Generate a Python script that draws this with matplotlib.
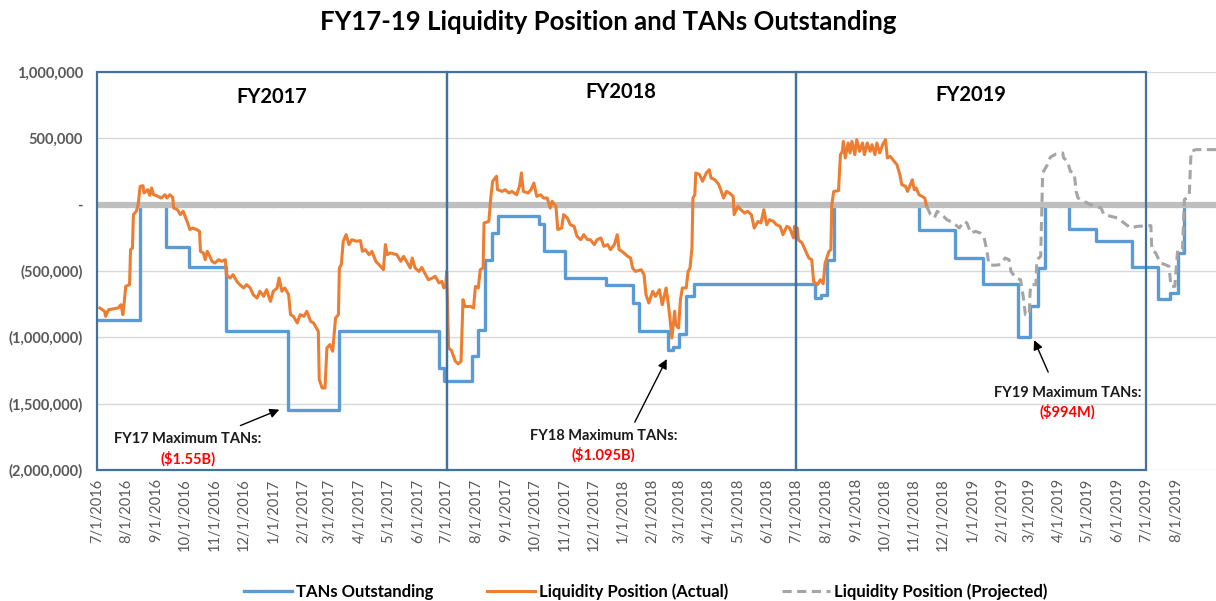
import matplotlib
matplotlib.use('Agg')
import matplotlib.pyplot as plt
import matplotlib.dates as mdates
from matplotlib.ticker import FuncFormatter, FixedLocator
import numpy as np

plt.rcParams['font.family'] = ['Lato', 'DejaVu Sans']

# all dates are kept as days after 7/1/2016, values in thousands of dollars
START = np.datetime64('2016-07-01')
END_DAY = 1168

# TANs outstanding (step changes)
tan_day = [0, 45, 72, 96, 135, 199, 253, 357, 362, 391, 398, 405, 412, 419, 461, 467,
           489, 531, 559, 566, 596, 601, 608, 615, 623, 749, 756, 762, 769, 858, 896,
           925, 961, 974, 982, 989, 1015, 1043, 1080, 1107, 1120, 1128, 1135, 1168]
tan_val = [-870, 0, -322, -472, -955, -1550, -955, -1230, -1332, -1138, -947, -414, -214, -83,
           -143, -347, -553, -603, -741, -955, -1095, -1073, -972, -686, -600, -703, -678,
           -414, 0, -193, -402, -595, -994, -766, -477, 0, -181, -276, -472, -708, -666,
           -364, 0, 0]

# Liquidity position (actual)
liq_day = [3, 8, 9, 12, 22, 25, 27, 28, 30, 34, 35, 37, 38, 41, 43, 45, 48, 49, 53, 55,
           57, 59, 62, 67, 71, 73, 76, 79, 80, 84, 87, 90, 94, 97, 100, 104, 107, 108, 111,
           113, 115, 117, 120, 123, 127, 130, 134, 135, 139, 142, 146, 149, 153, 156, 160,
           163, 167, 170, 174, 177, 181, 184, 188, 190, 193, 196, 200, 202, 205, 209, 212,
           216, 219, 223, 226, 229, 231, 232, 235, 238, 240, 243, 246, 249, 252, 253, 255,
           257, 260, 263, 266, 271, 275, 277, 280, 284, 287, 291, 296, 299, 301, 303, 306,
           313, 317, 320, 324, 327, 329, 332, 336, 339, 343, 346, 350, 353, 357, 360, 362,
           364, 365, 367, 370, 374, 377, 380, 382, 384, 390, 393, 395, 398, 400, 403, 404,
           409, 411, 413, 417, 418, 423, 426, 430, 433, 438, 441, 443, 445, 450, 453, 456,
           459, 463, 466, 470, 473, 475, 479, 481, 485, 487, 491, 494, 498, 501, 505, 508,
           512, 515, 519, 522, 526, 529, 533, 536, 540, 543, 545, 548, 554, 557, 559, 562,
           568, 571, 573, 576, 580, 583, 587, 590, 594, 596, 598, 600, 603, 604, 607, 609,
           611, 615, 617, 619, 621, 622, 624, 625, 629, 632, 636, 639, 641, 645, 649, 651,
           654, 657, 660, 664, 665, 669, 672, 676, 679, 683, 686, 690, 693, 696, 699, 702,
           706, 709, 713, 716, 720, 723, 727, 728, 731, 732, 736, 739, 743, 746, 748, 752,
           755, 758, 760, 764, 766, 767, 769, 774, 776, 778, 779, 781, 784, 786, 788, 791,
           793, 796, 799, 801, 804, 807, 809, 812, 814, 817, 820, 823, 825, 828, 832, 835,
           838, 840, 844, 846, 849, 851, 853, 855, 858, 861, 864, 866]
liq_val = [-779, -804, -842, -792, -779, -754, -829, -767, -616, -603, -339, -327, -75, -50,
           0, 138, 143, 88, 113, 70, 126, 75, 68, 50, 75, 50, 75, 55, -25, -38, -75, -50,
           -126, -188, -176, -188, -201, -352, -364, -415, -352, -377, -427, -440, -415,
           -427, -415, -528, -553, -528, -578, -603, -628, -603, -628, -678, -704, -653,
           -691, -641, -729, -653, -628, -553, -653, -628, -678, -829, -842, -892, -829,
           -842, -804, -880, -892, -930, -955, -1319, -1382, -1382, -1080, -1055, -1105,
           -854, -829, -477, -452, -276, -226, -301, -264, -276, -271, -352, -339, -377,
           -352, -427, -465, -490, -301, -377, -364, -377, -427, -390, -440, -477, -402,
           -477, -503, -473, -528, -566, -553, -540, -590, -578, -628, -603, -503, -1080,
           -1100, -1180, -1200, -1180, -716, -767, -767, -779, -616, -628, -490, -477,
           -138, -126, 50, 176, 214, 113, 100, 113, 88, 100, 75, 138, 239, 100, 88, 113,
           163, 63, 75, 50, 50, -25, 25, -13, -188, -176, -75, -100, -151, -163, -239,
           -264, -226, -264, -264, -301, -264, -251, -314, -301, -339, -301, -226, -339,
           -352, -390, -402, -477, -503, -490, -528, -678, -741, -653, -691, -641, -754,
           -628, -729, -854, -1005, -804, -905, -930, -716, -628, -628, -503, -477, -327,
           50, 75, 239, 226, 176, 239, 264, 201, 188, 151, 113, 50, 100, 88, 63, -75, -13,
           -38, -63, -50, -75, -176, -126, -138, -38, -151, -113, -126, -151, -163, -226,
           -163, -176, -251, -163, -176, -264, -289, -339, -402, -415, -578, -603, -566,
           -596, -440, -352, -339, 0, 100, 105, 377, 402, 477, 352, 465, 390, 477, 377,
           490, 402, 465, 377, 465, 402, 452, 377, 465, 390, 452, 490, 352, 364, 327, 301,
           226, 151, 138, 100, 151, 188, 113, 126, 75, 63, 50, -13]

# Liquidity position (projected)
proj_day = [866, 870, 874, 877, 882, 887, 894, 900, 905, 908, 912, 917, 922, 926, 929,
            931, 936, 943, 948, 952, 954, 959, 964, 967, 969, 973, 974, 975, 980, 981, 985,
            987, 988, 992, 995, 1001, 1008, 1009, 1013, 1016, 1020, 1022, 1024, 1030, 1037,
            1048, 1051, 1065, 1079, 1086, 1100, 1101, 1105, 1110, 1115, 1119, 1121, 1125,
            1128, 1133, 1135, 1140, 1142, 1147, 1168]
proj_val = [-13, -75, -100, -50, -75, -113, -138, -176, -126, -138, -214, -201, -214, -251,
            -352, -452, -457, -452, -402, -415, -503, -553, -566, -704, -829, -829, -653,
            -603, -603, -415, -390, 214, 251, 301, 357, 382, 390, 352, 327, 251, 239, 100,
            50, 25, 0, -25, -75, -100, -176, -163, -158, -339, -364, -440, -452, -465, -616,
            -616, -339, -339, 38, 63, 402, 415, 415]

fy_labels = ['FY2017', 'FY2018', 'FY2019']
fy_bounds = ['2016-07-01', '2017-07-01', '2018-07-01', '2019-07-01']


def days(d):
    return START + np.array(d, dtype='timedelta64[D]')


def acct(v, pos):
    if abs(v) < 1:
        return '-'
    s = f'{abs(v):,.0f}'
    return f'({s})' if v < 0 else s


def mdy(v, pos):
    d = mdates.num2date(v)
    return f'{d.month}/{d.day}/{d.year}'


fig = plt.figure(figsize=(12.16, 6.01), dpi=100)
ax = fig.add_axes([97 / 1216, 1 - 470 / 601, 1 - 97 / 1216, 398 / 601])

ax.step(days(tan_day), np.array(tan_val) * 1000, where='post', color='#5B9BD5', lw=2.4,
        label='TANs Outstanding', zorder=3)
ax.axhline(0, color='#BFBFBF', lw=4.5, zorder=4)
ax.plot(days(liq_day), np.array(liq_val) * 1000, color='#ED7D31', lw=2.2,
        label='Liquidity Position (Actual)', zorder=5)
ax.plot(days(proj_day), np.array(proj_val) * 1000, color='#A5A5A5', lw=2.2,
        dashes=(3, 1.8), label='Liquidity Position (Projected)', zorder=5)

# month ticks: labels run 7/1/2016 .. 8/1/2019
months = np.arange(np.datetime64('2016-07'), np.datetime64('2019-09'),
                   dtype='datetime64[M]').astype('datetime64[D]')
ax.vlines(months, -25000, 0, color='#D9D9D9', lw=0.8, zorder=2)

# fiscal year boxes
for i, lab in enumerate(fy_labels):
    s = np.datetime64(fy_bounds[i])
    e = np.datetime64(fy_bounds[i + 1])
    ax.axvspan(s, e, ymin=0, ymax=1, fill=False, ec='#41719C', lw=1.6, zorder=6, clip_on=False)
    ax.text(s + (e - s) / 2, [0.937, 0.95, 0.942][i], lab, transform=ax.get_xaxis_transform(),
            ha='center', va='center', fontsize=14.5, fontweight='bold', color='black')

ax.set_ylim(-2000000, 1000000)
ax.set_yticks(np.arange(-2000000, 1000001, 500000))
ax.yaxis.set_major_formatter(FuncFormatter(acct))
ax.set_xlim(START, START + np.timedelta64(END_DAY, 'D'))
ax.xaxis.set_major_locator(FixedLocator(mdates.date2num(months)))
ax.xaxis.set_major_formatter(FuncFormatter(mdy))
ax.tick_params(axis='x', length=0, pad=6, labelsize=10.5, labelcolor='#595959', rotation=90)
ax.tick_params(axis='y', length=0, pad=10, labelsize=10.5, labelcolor='#595959')
for t in ax.get_yticklabels():
    t.set_fontweight('bold')
ax.yaxis.grid(True, color='#D9D9D9', lw=1)
ax.set_axisbelow(True)
for sp in ax.spines.values():
    sp.set_visible(False)

# max TANs callouts
notes = [('FY17 Maximum TANs:', '($1.55B)', 95, -1770, -1915, (147, -1673), (193, -1537)),
         ('FY18 Maximum TANs:', '($1.095B)', 529, -1741, -1884, (560, -1658), (596, -1145)),
         ('FY19 Maximum TANs:', '($994M)', 1013, -1417, -1560, (994, -1281), (977, -1002))]
for head, amt, tx, ty1, ty2, tail, tip in notes:
    ax.text(days(tx), ty1 * 1000, head, ha='center', va='center', fontsize=10.5,
            fontweight='bold', color='#1a1a1a', zorder=7)
    ax.text(days(tx), ty2 * 1000, amt, ha='center', va='center', fontsize=10.5,
            fontweight='bold', color='#FF0000', zorder=7)
    ax.annotate('', xy=(days(tip[0]), tip[1] * 1000), xytext=(days(tail[0]), tail[1] * 1000),
                arrowprops=dict(arrowstyle='-|>', color='black', lw=1, mutation_scale=14),
                zorder=7)

fig.text(0.5, 0.963, 'FY17-19 Liquidity Position and TANs Outstanding', ha='center',
         va='center', fontsize=18.5, fontweight='bold')
fig.legend(loc='center', bbox_to_anchor=(0.531, 0.015), ncol=3, frameon=False,
           handlelength=2.9, handletextpad=0.25, columnspacing=3.2,
           prop={'size': 12, 'weight': 'bold'})

fig.savefig('out.png', dpi=100)
